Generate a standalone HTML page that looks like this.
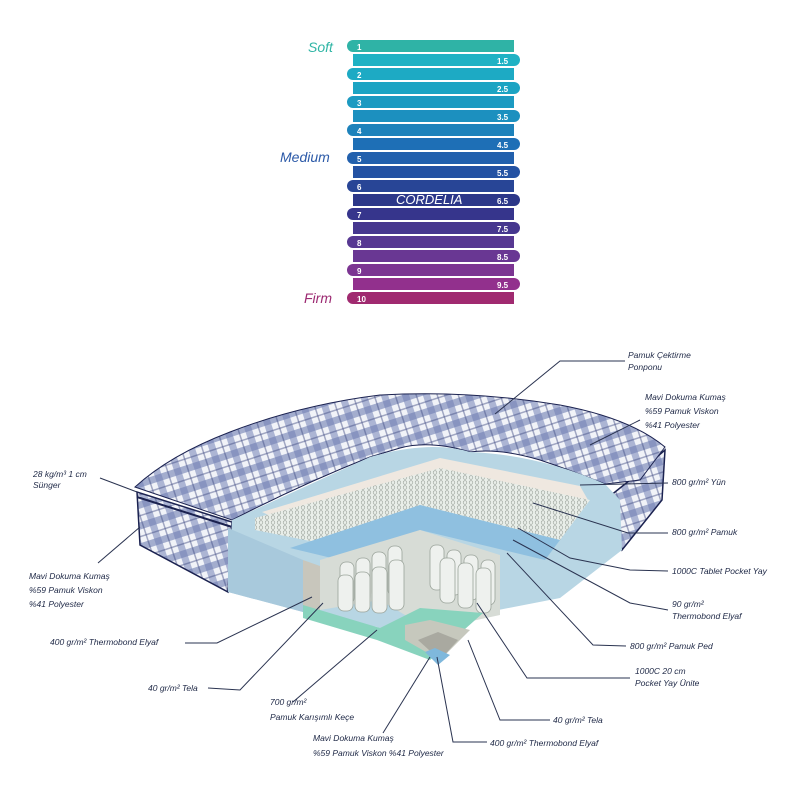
<!DOCTYPE html>
<html><head><meta charset="utf-8">
<style>
html,body{margin:0;padding:0;background:#fff;}
svg{display:block;}
text{font-family:"Liberation Sans",sans-serif;}
.l{font-size:8.5px;font-style:italic;fill:#1d2745;}
.n{font-size:8px;font-weight:bold;fill:#fff;}
.ln{fill:none;stroke:#2a3350;stroke-width:1;}
</style></head><body>
<svg width="800" height="800" viewBox="0 0 800 800" xmlns="http://www.w3.org/2000/svg">
<defs>
<pattern id="plaid" width="20" height="20" patternUnits="userSpaceOnUse" patternTransform="rotate(-18)">
<rect width="20" height="20" fill="#f1f3f8"/>
<rect x="0" y="0" width="7" height="20" fill="#7e8cbc" opacity=".6"/>
<rect x="0" y="0" width="20" height="7" fill="#6f7eb2" opacity=".6"/>
<rect x="13" y="0" width="1.5" height="20" fill="#3e4a80" opacity=".45"/>
<rect x="0" y="13" width="20" height="1.5" fill="#3e4a80" opacity=".45"/>
</pattern>
<pattern id="dots" width="6" height="5" patternUnits="userSpaceOnUse">
<rect width="6" height="5" fill="#e9eee9"/>
<circle cx="3" cy="2.5" r="1.8" fill="none" stroke="#9aa29a" stroke-width=".6"/>
</pattern>
</defs>

<g>
<text x="308" y="52" font-size="14" font-style="italic" fill="#2fb5a5">Soft</text>
<text x="280" y="162" font-size="14" font-style="italic" fill="#2c5aa8">Medium</text>
<text x="304" y="303" font-size="14" font-style="italic" fill="#9c2a72">Firm</text>

<path d="M353,40 H514 V52 H353 a6,6 0 0 1 0,-12z" fill="#2fb3a6"/><text class="n" x="357" y="50">1</text>
<path d="M353,54 H514 a6,6 0 0 1 0,12 H353z" fill="#1fb2c4"/><text class="n" x="497" y="64">1.5</text>
<path d="M353,68 H514 V80 H353 a6,6 0 0 1 0,-12z" fill="#1daac4"/><text class="n" x="357" y="78">2</text>
<path d="M353,82 H514 a6,6 0 0 1 0,12 H353z" fill="#1ca4c3"/><text class="n" x="497" y="92">2.5</text>
<path d="M353,96 H514 V108 H353 a6,6 0 0 1 0,-12z" fill="#1c9ac1"/><text class="n" x="357" y="106">3</text>
<path d="M353,110 H514 a6,6 0 0 1 0,12 H353z" fill="#1c90bf"/><text class="n" x="497" y="120">3.5</text>
<path d="M353,124 H514 V136 H353 a6,6 0 0 1 0,-12z" fill="#1d82bb"/><text class="n" x="357" y="134">4</text>
<path d="M353,138 H514 a6,6 0 0 1 0,12 H353z" fill="#1e6fb6"/><text class="n" x="497" y="148">4.5</text>
<path d="M353,152 H514 V164 H353 a6,6 0 0 1 0,-12z" fill="#2260ad"/><text class="n" x="357" y="162">5</text>
<path d="M353,166 H514 a6,6 0 0 1 0,12 H353z" fill="#2452a3"/><text class="n" x="497" y="176">5.5</text>
<path d="M353,180 H514 V192 H353 a6,6 0 0 1 0,-12z" fill="#284596"/><text class="n" x="357" y="190">6</text>
<path d="M353,194 H514 a6,6 0 0 1 0,12 H353z" fill="#2c3789"/><text class="n" x="497" y="204">6.5</text>
<text x="396" y="204" font-size="13" font-style="italic" fill="#fff">CORDELIA</text>
<path d="M353,208 H514 V220 H353 a6,6 0 0 1 0,-12z" fill="#36358c"/><text class="n" x="357" y="218">7</text>
<path d="M353,222 H514 a6,6 0 0 1 0,12 H353z" fill="#46378f"/><text class="n" x="497" y="232">7.5</text>
<path d="M353,236 H514 V248 H353 a6,6 0 0 1 0,-12z" fill="#573892"/><text class="n" x="357" y="246">8</text>
<path d="M353,250 H514 a6,6 0 0 1 0,12 H353z" fill="#693793"/><text class="n" x="497" y="260">8.5</text>
<path d="M353,264 H514 V276 H353 a6,6 0 0 1 0,-12z" fill="#7c3592"/><text class="n" x="357" y="274">9</text>
<path d="M353,278 H514 a6,6 0 0 1 0,12 H353z" fill="#92308d"/><text class="n" x="497" y="288">9.5</text>
<path d="M353,292 H514 V304 H353 a6,6 0 0 1 0,-12z" fill="#a02a70"/><text class="n" x="357" y="302">10</text>
</g>

<g>
<path d="M137,492 L140,545 L228,592 L232,522 Z" fill="url(#plaid)" stroke="#1b2250" stroke-width="1.5"/>
<path d="M137,497 L232,527" stroke="#1b2250" stroke-width="2"/>
<path d="M630,480 L665,450 L662,500 L622,550 L605,500 Z" fill="url(#plaid)" stroke="#1b2250" stroke-width="1.5"/>
<path d="M135,487 Q170,455 230,432 Q300,405 380,395 Q470,390 560,405 Q630,418 665,447 L640,480 L605,484 Q570,470 540,460 Q500,448 470,452 Q430,440 400,448 L370,457 Q300,485 232,520 Z" fill="url(#plaid)" stroke="#1b2250" stroke-width="1"/>
<path d="M232,520 L370,457 Q430,440 470,452 Q540,455 605,484 L620,500 L622,550 L560,598 L483,613 L430,660 L377,627 L303,612 L228,592 Z" fill="#b8d6e4"/>
<path d="M228,528 L303,560 L303,612 L228,592 Z" fill="#a8c9dc"/>
<path d="M262,512 L440,458 L580,486 L588,500 L440,470 L290,525 Z" fill="#efe8e0"/>
<path d="M255,518 L440,468 L590,500 L560,540 L420,505 L330,545 L255,530 Z" fill="url(#dots)"/>
<path d="M290,548 L420,505 L560,540 L545,560 L420,530 L340,560 Z" fill="#8fc0e0"/>
<path d="M320,560 L420,530 L500,555 L500,615 L430,630 L380,600 L320,610 Z" fill="#d7dcd6"/>
<g fill="#eef1ee" stroke="#9aa39a" stroke-width=".8">
<rect x="340" y="562" width="14" height="42" rx="6"/><rect x="356" y="558" width="14" height="44" rx="6"/><rect x="372" y="552" width="14" height="46" rx="6"/><rect x="388" y="546" width="14" height="50" rx="6"/>
<rect x="338" y="575" width="15" height="36" rx="6"/><rect x="355" y="572" width="15" height="40" rx="6"/><rect x="372" y="567" width="15" height="46" rx="6"/><rect x="389" y="560" width="15" height="50" rx="6"/>
<rect x="430" y="545" width="14" height="45" rx="6"/><rect x="447" y="550" width="14" height="45" rx="6"/><rect x="464" y="555" width="14" height="45" rx="6"/><rect x="481" y="560" width="14" height="45" rx="6"/>
<rect x="440" y="558" width="15" height="45" rx="6"/><rect x="458" y="563" width="15" height="45" rx="6"/><rect x="476" y="568" width="15" height="45" rx="6"/>
</g>
<path d="M303,560 L320,566 L320,612 L303,612 Z" fill="#c8c6bc"/>
<path d="M303,605 L380,628 L420,608 L483,613 L430,660 L377,640 L303,618 Z" fill="#88d3bd"/>
<path d="M405,625 L430,620 L470,630 L440,660 L405,640 Z" fill="#c6c8bd"/>
<path d="M418,640 L438,632 L458,640 L440,660 Z" fill="#a9a9a0"/>
<path d="M425,652 L435,648 L450,655 L438,665 Z" fill="#7fb8dc"/>
</g>

<g class="ln">
<path d="M625,361 H560 L495,414"/>
<path d="M640,420 L590,445"/>
<path d="M668,483 L580,485"/>
<path d="M668,533 L628,533 L533,503"/>
<path d="M668,571 L630,570 L570,558 L518,528"/>
<path d="M668,610 L630,603 L513,540"/>
<path d="M626,646 L593,645 L507,553"/>
<path d="M630,678 L527,678 L477,603"/>
<path d="M550,720 L500,720 L468,640"/>
<path d="M487,742 L453,742 L437,657"/>
<path d="M383,733 L430,657"/>
<path d="M293,702 L377,630"/>
<path d="M208,688 L240,690 L323,603"/>
<path d="M185,643 L217,643 L312,597"/>
<path d="M100,478 L137,492"/>
<path d="M98,563 L140,527"/>
</g>

<text class="l" x="628" y="358">Pamuk Çektirme</text>
<text class="l" x="628" y="370">Ponponu</text>
<text class="l" x="645" y="400">Mavi Dokuma Kumaş</text>
<text class="l" x="645" y="414">%59 Pamuk Viskon</text>
<text class="l" x="645" y="428">%41 Polyester</text>
<text class="l" x="672" y="485">800 gr/m² Yün</text>
<text class="l" x="672" y="535">800 gr/m² Pamuk</text>
<text class="l" x="672" y="574">1000C Tablet Pocket Yay</text>
<text class="l" x="672" y="607">90 gr/m²</text>
<text class="l" x="672" y="619">Thermobond Elyaf</text>
<text class="l" x="630" y="649">800 gr/m² Pamuk Ped</text>
<text class="l" x="635" y="674">1000C 20 cm</text>
<text class="l" x="635" y="686">Pocket Yay Ünite</text>
<text class="l" x="553" y="723">40 gr/m² Tela</text>
<text class="l" x="490" y="746">400 gr/m² Thermobond Elyaf</text>
<text class="l" x="313" y="741">Mavi Dokuma Kumaş</text>
<text class="l" x="313" y="756">%59 Pamuk Viskon %41 Polyester</text>
<text class="l" x="270" y="705">700 gr/m²</text>
<text class="l" x="270" y="720">Pamuk Karışımlı Keçe</text>
<text class="l" x="148" y="691">40 gr/m² Tela</text>
<text class="l" x="50" y="645">400 gr/m² Thermobond Elyaf</text>
<text class="l" x="33" y="477">28 kg/m³ 1 cm</text>
<text class="l" x="33" y="488">Sünger</text>
<text class="l" x="29" y="579">Mavi Dokuma Kumaş</text>
<text class="l" x="29" y="593">%59 Pamuk Viskon</text>
<text class="l" x="29" y="607">%41 Polyester</text>
</svg>
</body></html>
